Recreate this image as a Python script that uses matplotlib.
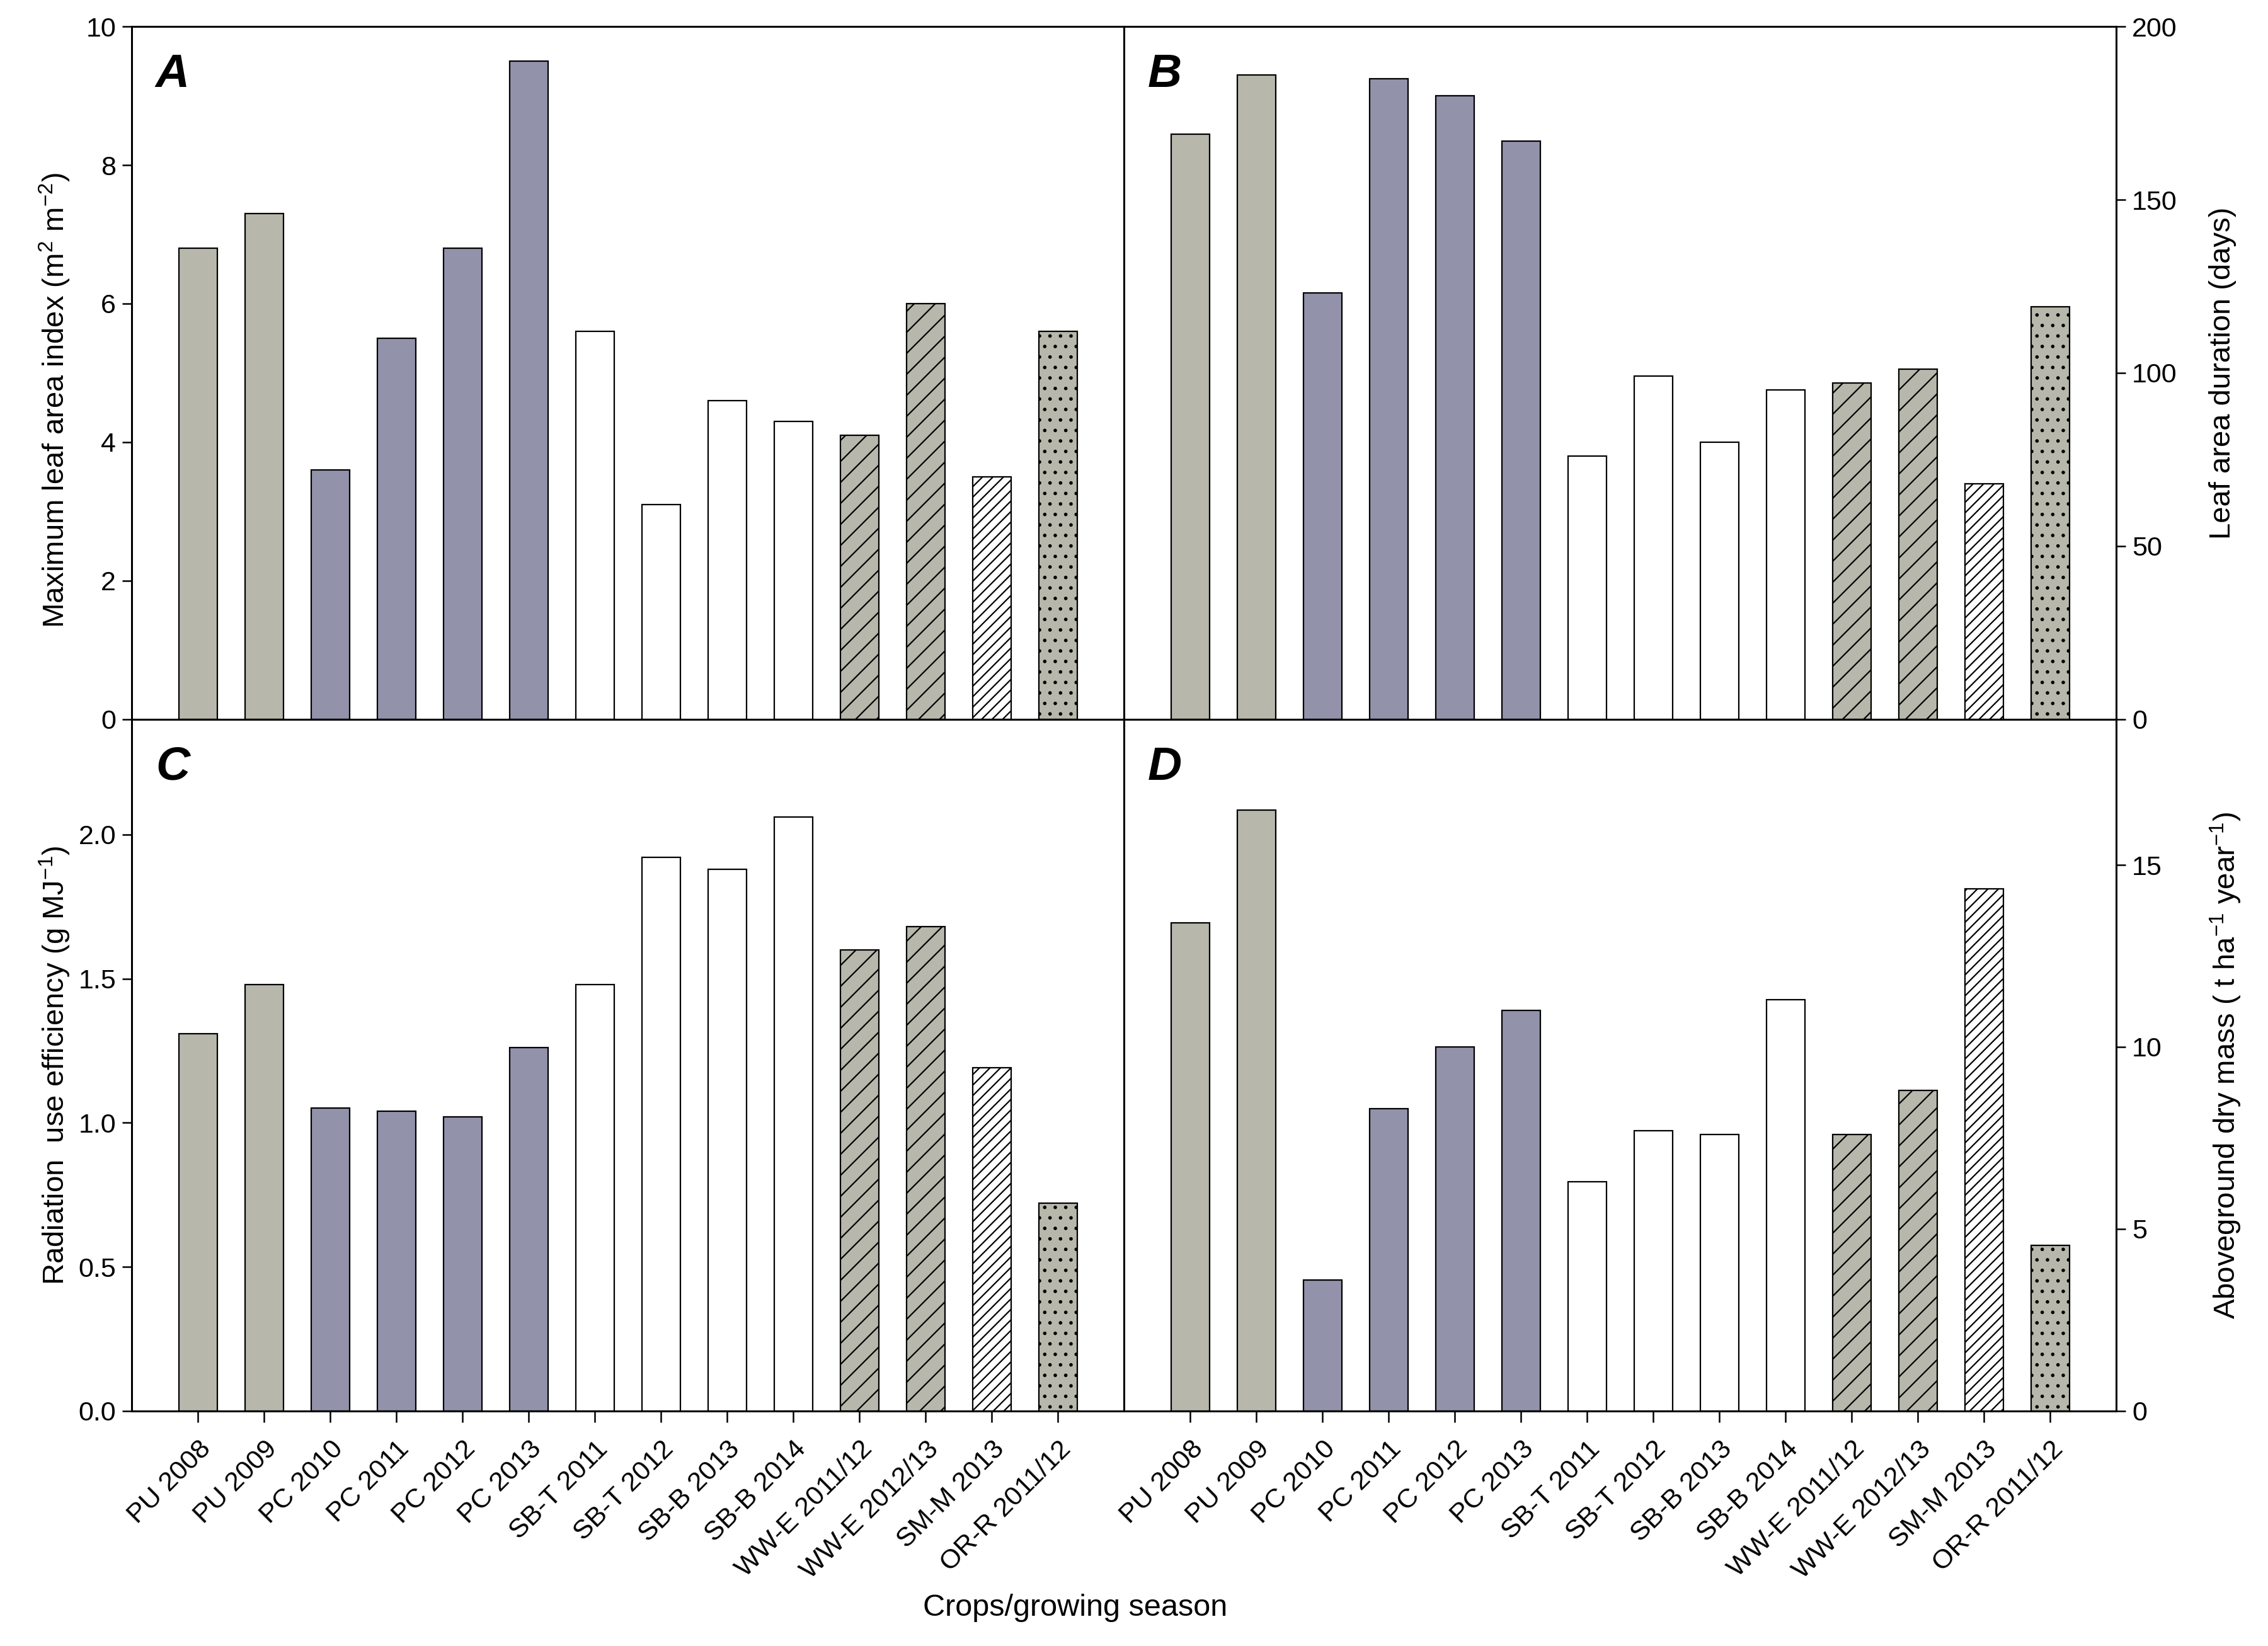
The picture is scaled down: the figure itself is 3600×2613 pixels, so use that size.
import matplotlib

matplotlib.use("Agg")
import matplotlib.pyplot as plt
import numpy as np

crops = ["PU 2008", "PU 2009", "PC 2010", "PC 2011", "PC 2012", "PC 2013",
         "SB-T 2011", "SB-T 2012", "SB-B 2013", "SB-B 2014",
         "WW-E 2011/12", "WW-E 2012/13", "SM-M 2013", "OR-R 2011/12"]

lai_max = [6.8, 7.3, 3.6, 5.5, 6.8, 9.5, 5.6, 3.1, 4.6, 4.3, 4.1, 6.0, 3.5, 5.6]
lad_days = [169, 186, 123, 185, 180, 167, 76, 99, 80, 95, 97, 101, 68, 119]
rue = [1.31, 1.48, 1.05, 1.04, 1.02, 1.26, 1.48, 1.92, 1.88, 2.06, 1.60, 1.68, 1.19, 0.72]
agdm = [13.4, 16.5, 3.6, 8.3, 10.0, 11.0, 6.3, 7.7, 7.6, 11.3, 7.6, 8.8, 14.35, 4.55]

GRAY = "#b7b7ab"
BLUE = "#9292ab"
fills = [GRAY, GRAY, BLUE, BLUE, BLUE, BLUE, "white", "white", "white", "white",
         GRAY, GRAY, "white", GRAY]
hatches = ["", "", "", "", "", "", "", "", "", "", "//", "//", "////", ".."]

plt.rcParams.update({
    "font.family": ["Liberation Sans", "DejaVu Sans"],
    "mathtext.default": "regular",
    "hatch.linewidth": 0.8,
    "axes.linewidth": 1.1,
    "xtick.major.width": 0.9, "ytick.major.width": 0.9,
    "xtick.major.size": 6.5, "ytick.major.size": 5.5,
    "xtick.labelsize": 15.5, "ytick.labelsize": 15.5,
})

fig = plt.figure(figsize=(18, 13.065), dpi=200)
L, M, R = 0.0581, 0.4956, 0.9331
B0, MID, TOP = 0.1428, 0.5630, 0.9839
W = M - L

axA = fig.add_axes([L, MID, W, TOP - MID])
axB = fig.add_axes([M, MID, W, TOP - MID])
axC = fig.add_axes([L, B0, W, MID - B0])
axD = fig.add_axes([M, B0, W, MID - B0])

x = np.arange(len(crops))


def panel(ax, vals, ymax, yticks, fmt, ylabel, letter, right=False, bottom=False, ly=0.5):
    bars = ax.bar(x, vals, 0.58, color=fills, edgecolor="black", linewidth=0.8, zorder=2)
    for b, h in zip(bars, hatches):
        if h:
            b.set_hatch(h)
    ax.set_xlim(-1, 14)
    ax.set_ylim(0, ymax)
    ax.set_yticks(yticks)
    ax.set_yticklabels([fmt.format(v) for v in yticks])
    ax.set_xticks(x)
    ax.tick_params(direction="out")
    if bottom:
        ax.set_xticklabels(crops, rotation=45, ha="right", rotation_mode="anchor")
        ax.tick_params(axis="x", pad=8)
    else:
        ax.set_xticklabels([])
    ax.set_ylabel(ylabel, fontsize=17)
    if right:
        ax.yaxis.tick_right()
        ax.yaxis.set_label_position("right")
        ax.yaxis.set_label_coords(1.093, ly)
    else:
        ax.yaxis.set_label_coords(-0.060, ly)
    ax.text(0.024, 0.962, letter, transform=ax.transAxes, fontsize=27,
            fontweight="bold", fontstyle="italic", ha="left", va="top")


panel(axA, lai_max, 10, [0, 2, 4, 6, 8, 10], "{:g}",
      "Maximum leaf area index (m$^2$ m$^{-2}$)", "A", ly=0.46)
panel(axB, lad_days, 200, [0, 50, 100, 150, 200], "{:g}",
      "Leaf area duration (days)", "B", right=True)
panel(axC, rue, 2.4, [0, 0.5, 1.0, 1.5, 2.0], "{:.1f}",
      "Radiation  use efficiency (g MJ$^{-1}$)", "C", bottom=True)
panel(axD, agdm, 19, [0, 5, 10, 15], "{:g}",
      "Aboveground dry mass ( t ha$^{-1}$ year$^{-1}$)", "D", right=True, bottom=True)

fig.text(0.474, 0.023, "Crops/growing season", fontsize=17.5, ha="center", va="center")

fig.savefig("out.png", dpi=200)
